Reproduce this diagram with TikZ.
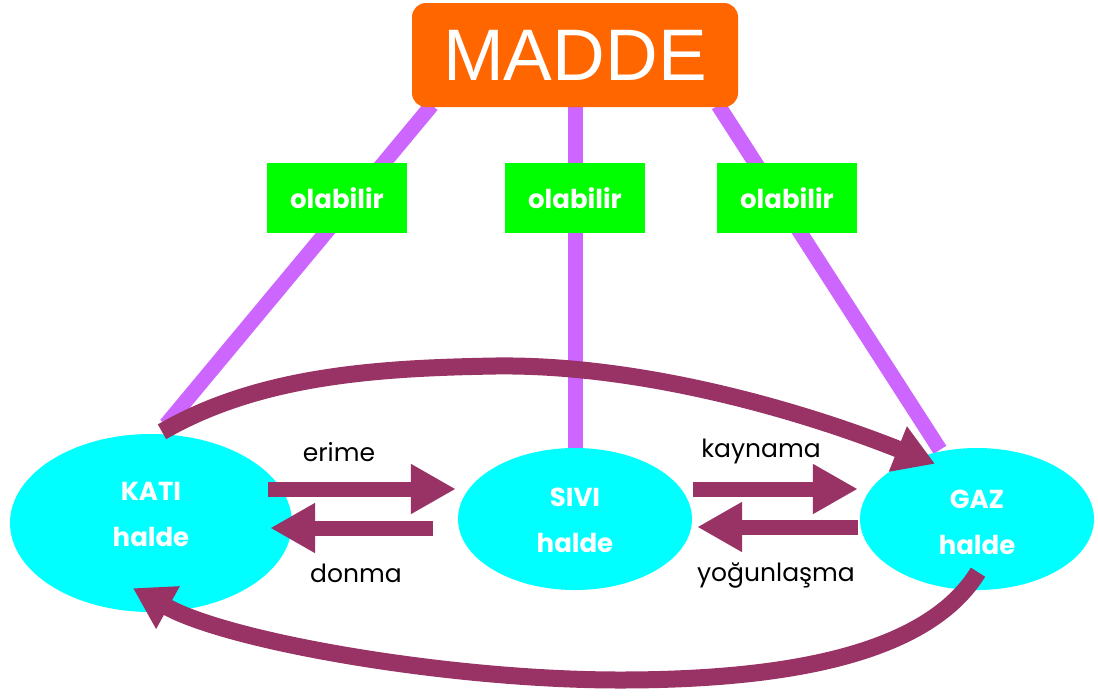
\documentclass[tikz,border=0pt]{standalone}
\usepackage{fontspec}
\setmainfont{Liberation Sans}
\newfontfamily\comic{Poppins}
\usetikzlibrary{arrows.meta,shapes.geometric,calc}
\pgfdeclarelayer{background}
\pgfsetlayers{background,main}
\definecolor{madorange}{HTML}{FF6600}
\definecolor{linkpurple}{HTML}{CC66FF}
\definecolor{boxgreen}{HTML}{00FF00}
\definecolor{statecyan}{HTML}{00FFFF}
\definecolor{flowmaroon}{HTML}{993366}
\begin{document}
\begin{tikzpicture}[x=1pt,y=-1pt,
  rootbox/.style={draw=none,fill=madorange,rounded corners=14pt,minimum width=326pt,minimum height=104pt,inner sep=0pt,text=white,font=\fontsize{73}{80}\selectfont},
  linkbox/.style={draw=none,fill=boxgreen,minimum width=140pt,minimum height=70pt,inner sep=0pt,text=white,font=\comic\bfseries\fontsize{26}{30}\selectfont},
  statenode/.style={ellipse,draw=none,fill=statecyan,inner sep=0pt},
  statetext/.style={text=white,align=center,inner sep=0pt,font=\comic\bfseries\fontsize{26}{46}\selectfont},
  flowlabel/.style={text=black,inner sep=0pt,font=\comic\fontsize{25}{30}\selectfont},
  link/.style={draw=linkpurple,line width=15pt},
  flow/.style={draw=flowmaroon,line width=15pt,-{Triangle[length=45pt,width=47pt]}},
  loopflow/.style={draw=flowmaroon,line width=17pt,-{Triangle[length=40pt,width=46pt]}}]
\useasboundingbox (0,0) rectangle (1098,697);
% nodes
\node[rootbox] (madde) at (575,55) {MADDE};
\node[statenode,minimum width=282pt,minimum height=178pt,
  label={[statetext,yshift=9pt]center:{KATI\\halde}}] (kati) at (151,523) {};
\node[statenode,minimum width=234pt,minimum height=142pt,
  label={[statetext,yshift=-1pt]center:{SIVI\\halde}}] (sivi) at (575,519) {};
\node[statenode,minimum width=234pt,minimum height=142pt,
  label={[statetext,yshift=-3pt]center:{GAZ\\halde}}] (gaz) at (977,519) {};
% purple links (behind everything)
\begin{pgfonlayer}{background}
\draw[link] ([shift={(20,-2)}]madde.south west) -- ([shift={(15,-9)}]kati.north);
\draw[link] (madde.south) -- (sivi.north);
\draw[link] ([shift={(-20,-2)}]madde.south east) -- ([shift={(-37,2)}]gaz.north);
\end{pgfonlayer}
\node[linkbox] (ol1) at (337,198) {olabilir};
\node[linkbox] (ol2) at (575,198) {olabilir};
\node[linkbox] (ol3) at (787,198) {olabilir};
% straight flows
\draw[flow] ([shift={(-24,-34)}]kati.east) -- ([shift={(-2,-30)}]sivi.west);
\draw[flow] ([shift={(-25,9)}]sivi.west) -- ([shift={(-22,5)}]kati.east);
\draw[flow] ([shift={(1,-30)}]sivi.east) -- ([shift={(-2,-30)}]gaz.west);
\draw[flow] ([shift={(-2,8)}]gaz.west) -- ([shift={(5,8)}]sivi.east);
% curved flows
\draw[loopflow] ([shift={(11,-2)}]kati.north) .. controls (260,375) and (380,368) .. (495,366) .. controls (640,364) and (800,410) .. ([shift={(-42,16)}]gaz.north);
\draw[loopflow] ([shift={(1,-18)}]gaz.south) .. controls (930,650) and (800,680) .. (620,680) .. controls (450,680) and (230,642) .. ([shift={(-18,-24)}]kati.south);
% labels
\node[flowlabel] (l1) at (339,452) {erime};
\node[flowlabel] (l2) at (356,573) {donma};
\node[flowlabel] (l3) at (761,451) {kaynama};
\node[flowlabel] (l4) at (776,575) {yoğunlaşma};
\end{tikzpicture}
\end{document}
